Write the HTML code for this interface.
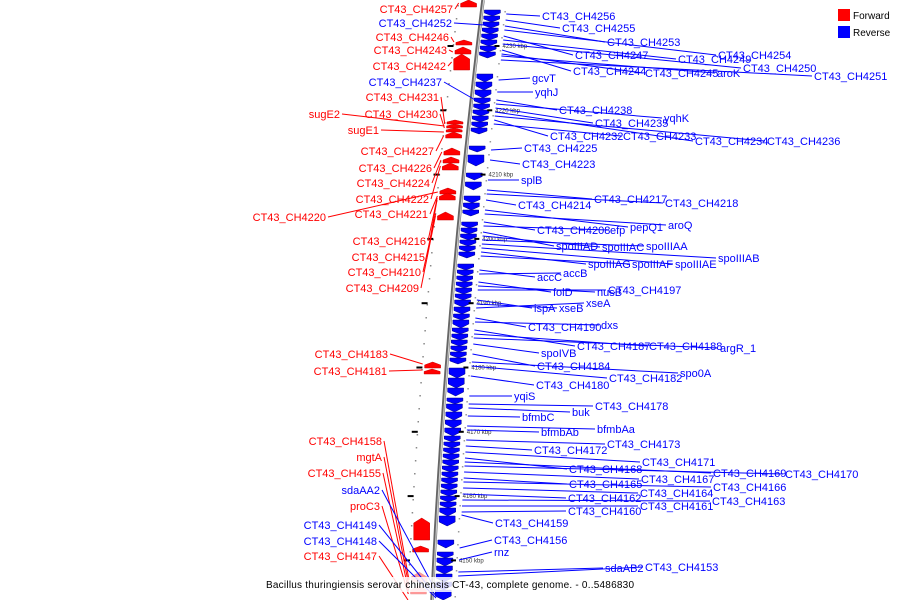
<!DOCTYPE html>
<html><head><meta charset="utf-8">
<style>
html,body{margin:0;padding:0;background:#fff;}
svg{display:block;font-family:"Liberation Sans",sans-serif;}
</style></head>
<body>
<svg id="map" width="900" height="600" viewBox="0 0 900 600">
  <g id="genes"></g>
  <g id="axisg"></g>
  <g id="leaders"></g>
  <g id="labels"></g>
  <rect x="263" y="577" width="376" height="15" fill="#fff" opacity="0.85"/>
  <text x="266" y="588" font-size="10" textLength="368" fill="#000">Bacillus thuringiensis serovar chinensis CT-43, complete genome. - 0..5486830</text>
  <g>
    <rect x="838" y="9" width="12" height="12" fill="#f00"/>
    <text x="853" y="19" font-size="10" fill="#000">Forward</text>
    <rect x="838" y="26" width="12" height="12" fill="#00f"/>
    <text x="853" y="36" font-size="10" fill="#000">Reverse</text>
  </g>
</svg>
<script>
// kbp ticks
const tickKbp = [4230,4220,4210,4200,4190,4180,4170,4160,4150];
// right (reverse strand) labels: name, text x, text y, gene y
const rightNames = ["CT43_CH4256","CT43_CH4255","CT43_CH4253","CT43_CH4254","CT43_CH4247","CT43_CH4249","CT43_CH4250","CT43_CH4244","CT43_CH4245","aroK","CT43_CH4251","gcvT","yqhJ","CT43_CH4238","yqhK","CT43_CH4235","CT43_CH4232","CT43_CH4233","CT43_CH4234","CT43_CH4236","CT43_CH4225","CT43_CH4223","splB","CT43_CH4217","CT43_CH4218","CT43_CH4214","pepQ1","aroQ","CT43_CH4208","efp","spoIIIAD","spoIIIAC","spoIIIAA","spoIIIAB","spoIIIAG","spoIIIAF","spoIIIAE","accC","accB","folD","nusB","CT43_CH4197","ispA","xseB","xseA","CT43_CH4190","dxs","CT43_CH4187","CT43_CH4188","argR_1","spoIVB","CT43_CH4184","spo0A","CT43_CH4182","CT43_CH4180","yqiS","CT43_CH4178","buk","bfmbC","bfmbAa","bfmbAb","CT43_CH4173","CT43_CH4172","CT43_CH4171","CT43_CH4168","CT43_CH4169","CT43_CH4170","CT43_CH4167","CT43_CH4165","CT43_CH4166","CT43_CH4164","CT43_CH4162","CT43_CH4163","CT43_CH4161","CT43_CH4160","CT43_CH4159","CT43_CH4156","rnz","sdaAB2","CT43_CH4153"];
const rightX = [542,562,607,718,575,678,743,573,645,717,814,532,535,559,664,595,550,623,695,767,524,522,521,594,665,518,630,668,537,610,556,602,646,718,588,632,675,537,563,553,597,608,534,559,586,528,601,577,649,720,541,537,680,609,536,514,595,572,522,597,541,607,534,642,569,713,785,641,569,713,640,568,712,640,568,495,494,494,605,645];
const rightY = [16,28,42,55,55,59,68,71,73,73,76,78,92,110,118,123,136,136,141,141,148,164,180,199,203,205,227,225,230,230,246,247,246,258,264,264,264,277,273,292,292,290,308,308,303,327,325,346,346,348,353,366,373,378,385,396,406,412,417,429,432,444,450,462,469,473,474,479,484,487,493,498,501,506,511,523,540,552,568,567];
const rightGeneY = [14,20,26,30,36,40,44,50,54,56,60,80,92,100,104,108,120,124,112,116,150,160,180,190,194,200,210,214,222,226,232,236,240,244,252,256,248,270,274,282,286,290,300,304,308,318,322,330,334,338,344,354,362,366,376,396,404,408,416,426,430,440,446,452,458,462,466,472,478,482,488,494,500,506,512,515,548,560,572,576];
// left labels
const leftNames = ["CT43_CH4257","CT43_CH4252","CT43_CH4246","CT43_CH4243","CT43_CH4242","CT43_CH4237","CT43_CH4231","sugE2","CT43_CH4230","sugE1","CT43_CH4227","CT43_CH4226","CT43_CH4224","CT43_CH4222","CT43_CH4220","CT43_CH4221","CT43_CH4216","CT43_CH4215","CT43_CH4210","CT43_CH4209","CT43_CH4183","CT43_CH4181","CT43_CH4158","mgtA","CT43_CH4155","sdaAA2","proC3","CT43_CH4149","CT43_CH4148","CT43_CH4147"];
const leftEndX = [453,452,449,447,446,442,439,340,438,379,434,432,430,429,326,428,426,425,421,419,388,387,382,382,381,380,380,377,377,377];
const leftY = [9,23,37,50,66,82,97,114,114,130,151,168,183,199,217,214,241,257,272,288,354,371,441,457,473,490,506,525,541,556];
const leftGeneY = [3,25,42,52,62,100,124,126,128,132,136,152,160,166,192,196,198,200,214,216,364,370,580,585,590,592,594,596,598,600];
const leftStrand = ["f","r","f","f","f","r","f","f","f","f","f","f","f","f","f","f","f","f","f","f","f","f","f","f","f","r","f","r","r","f"];
// forward gene blocks (y start, y end)
const fwdStart = [0,40,47,54,120,124,128,132,148,157,163,188,193,212,362,369,518,546,572,586];
const fwdEnd = [7,45,54,70,124,128,132,138,155,163,170,194,200,220,368,374,540,552,582,594];
// reverse gene blocks
const revStart = [10,16,22,28,34,40,46,52,74,82,90,98,104,110,116,122,128,146,155,173,182,196,203,210,222,228,234,240,246,252,264,270,276,282,288,294,300,307,314,320,328,334,340,346,352,358,368,378,388,398,404,412,420,428,436,442,448,454,460,466,472,478,484,490,496,502,508,516,540,552,558,566,574,582,590];
const revEnd = [16,22,28,34,40,46,52,58,82,90,98,104,110,116,122,128,134,152,166,180,190,203,210,216,228,234,240,246,252,258,270,276,282,288,294,300,307,314,320,328,334,340,346,352,358,364,378,388,396,404,412,420,428,436,442,448,454,460,466,472,478,484,490,496,502,508,516,526,548,558,566,574,582,590,600];

const NS="http://www.w3.org/2000/svg";
function ax(y){return 483-0.1225*y+0.0000625*y*y;}
function ky(k){return 46+(4230-k)*6.43;}
function mk(tag,attrs,parent){const e=document.createElementNS(NS,tag);for(const k in attrs)e.setAttribute(k,attrs[k]);parent.appendChild(e);return e;}
const G=document.getElementById('genes'),A=document.getElementById('axisg'),L=document.getElementById('leaders'),T=document.getElementById('labels');

// axis
let d="";for(let y=0;y<=600;y+=10){d+=(y?"L":"M")+ax(y).toFixed(1)+","+y;}
const ap1=mk('path',{d:d,stroke:"#666",'stroke-width':3.5,fill:"none"},A);


const ap2=mk('path',{d:d,stroke:"#ccc",'stroke-width':1.2,fill:"none",transform:"translate(0.7,0)"},A);


// minor dots
for(let y=5;y<600;y+=13){const dt=mk('rect',{x:ax(y)-25,y:y,width:1.5,height:1.5,fill:"#888"},A);


const dr=mk('rect',{x:ax(y)+22,y:y+6,width:1.5,height:1.5,fill:"#999"},A);

}
tickKbp.forEach(k=>{const y=ky(k),x=ax(y);
 const t=mk('rect',{x:x+17,y:y-1,width:5,height:2,fill:"#000"},A);
 
 
 const lt=mk('rect',{x:x-30,y:y-1,width:6,height:2,fill:"#000"},A);
 
 
 const tx=mk('text',{x:x+25,y:y+2,'font-size':6,fill:"#333"},A);tx.textContent=k+" kbp";
 
 
});

// genes
fwdStart.forEach((s,i)=>{const e=fwdEnd[i],x=ax((s+e)/2),h=e-s,hd=Math.min(5,h/2);
 const p=mk('path',{d:`M${x-22},${e} L${x-22},${s+hd} L${x-14},${s} L${x-6},${s+hd} L${x-6},${e} Z`,fill:"#f00",stroke:"#c00",'stroke-width':0.5},G);
 if(s>570)p.setAttribute('opacity','0.4');
 
 
});
revStart.forEach((s,i)=>{const e=revEnd[i],x=ax((s+e)/2),h=e-s,hd=Math.min(4,h/2);
 const p=mk('path',{d:`M${x+3},${s} L${x+19},${s} L${x+19},${e-hd} L${x+11},${e} L${x+3},${e-hd} Z`,fill:"#00f",stroke:"#008",'stroke-width':0.5},G);
 
 
});

// right labels
rightNames.forEach((n,i)=>{const gy=rightGeneY[i],x0=ax(gy)+25;
 const l=mk('line',{x1:x0,y1:gy,x2:rightX[i]-2,y2:rightY[i],stroke:"#00f",'stroke-width':1},L);
 
 
 const t=mk('text',{x:rightX[i],y:rightY[i]+4,'font-size':11,fill:"#00f"},T);t.textContent=n;
 
 
});
leftNames.forEach((n,i)=>{const gy=leftGeneY[i],c=leftStrand[i]=="f"?"#f00":"#00f",x0=ax(gy)-(leftStrand[i]=="f"?24:-4);
 const l=mk('line',{x1:x0,y1:gy,x2:leftEndX[i]+2,y2:leftY[i],stroke:c,'stroke-width':1},L);
 
 
 const t=mk('text',{x:leftEndX[i],y:leftY[i]+4,'font-size':11,fill:c,'text-anchor':'end'},T);t.textContent=n;
 
 
});
</script>
</body></html>
